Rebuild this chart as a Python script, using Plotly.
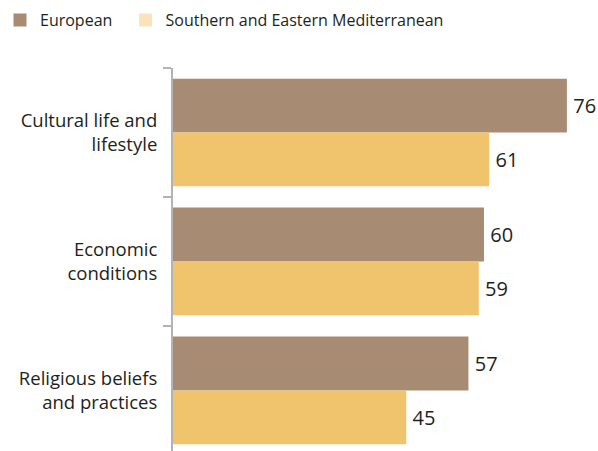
import plotly.graph_objects as go

categories = ["Cultural life and<br>lifestyle", "Economic<br>conditions", "Religious beliefs<br>and practices"]
european = [76, 60, 57]
sem = [61, 59, 45]
series_names = ["European", "Southern and Eastern Mediterranean"]

bar_colors = ["#A88B73", "#F0C46D"]
legend_colors = ["#A88B73", "#FAE3BA"]
FONT = "Open Sans"

fig = go.Figure()
for name, vals, col in zip(series_names, [european, sem], bar_colors):
    fig.add_trace(go.Bar(
        y=categories, x=vals, name=name, orientation="h",
        marker=dict(color=col, line=dict(width=0)),
        texttemplate="\u2009%{x}", textposition="outside",
        textfont=dict(size=20, color="#231F20", family=FONT),
        cliponaxis=False, showlegend=False, hoverinfo="skip",
    ))
for i, (name, col) in enumerate(zip(series_names, legend_colors)):
    fig.add_trace(go.Scatter(
        x=[None], y=[None], mode="markers", name=name,
        marker=dict(symbol="square", size=13, color=col),
        legend="legend" if i == 0 else "legend2",
    ))

leg_common = dict(orientation="h", xref="container", yref="container",
                  xanchor="left", yanchor="top", borderwidth=0,
                  font=dict(size=16, family=FONT, color="#231F20"),
                  itemclick=False, itemdoubleclick=False)

fig.update_layout(
    width=598, height=451,
    margin=dict(l=173, r=0, t=68, b=0, autoexpand=False),
    paper_bgcolor="white", plot_bgcolor="white",
    barmode="group", bargap=0.165, bargroupgap=0,
    font=dict(family=FONT, color="#231F20"),
    legend=dict(x=-0.006, y=0.993, **leg_common),
    legend2=dict(x=0.21, y=0.993, **leg_common),
    xaxis=dict(visible=False, range=[0, 82]),
    yaxis=dict(range=[2.47, -0.5], showline=True, linecolor="#B3B3B3", linewidth=2,
               ticks="outside", tickson="boundaries", ticklen=8, tickcolor="#B3B3B3",
               tickwidth=2, showgrid=False, zeroline=False,
               tickfont=dict(size=18.5, family=FONT, color="#231F20"),
               ticklabelstandoff=10),
)
fig.write_html("out.html", config={"displayModeBar": False},
               post_script="document.body.style.margin='0';")
